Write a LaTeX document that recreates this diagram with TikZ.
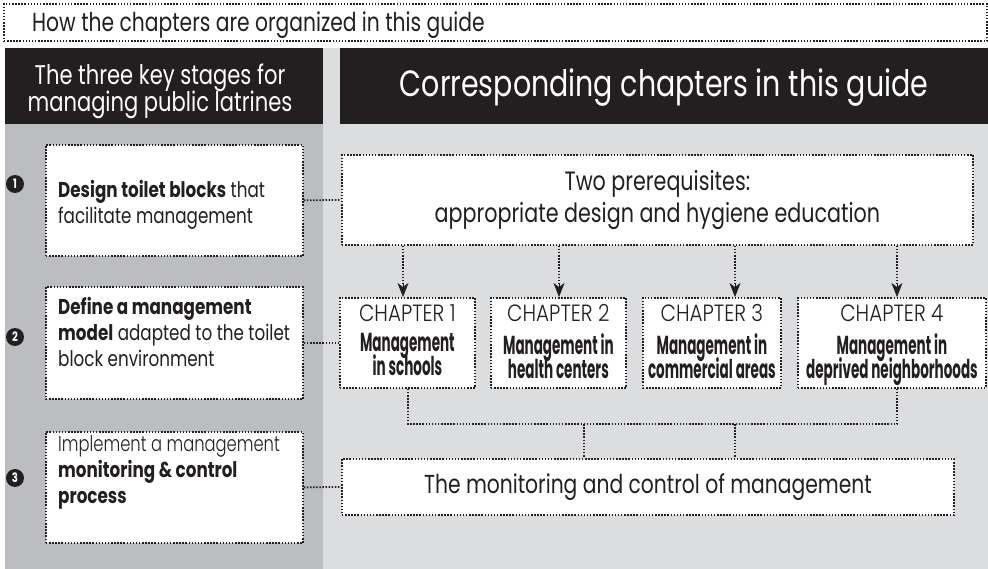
\documentclass[tikz,border=0pt]{standalone}
\usepackage{fontspec}
\setmainfont{Poppins}[FakeStretch=0.78]
\newfontfamily\flight{Poppins Light}[FakeStretch=0.85]
\newfontfamily\flightn{Poppins Light}[FakeStretch=0.76]
\newfontfamily\fcond{Poppins Bold}[FakeStretch=0.52]
\usetikzlibrary{arrows.meta}
\definecolor{ink}{HTML}{231F20}
\definecolor{leftgray}{HTML}{BCBDC0}
\definecolor{rightgray}{HTML}{DCDDDF}
\newcommand{\tightlines}{\lineskiplimit -40pt\lineskip 0pt\relax}
\begin{document}
\begin{tikzpicture}[x=1pt,y=-1pt,
  dotline/.style={draw=ink, line width=1.8pt, dash pattern=on 1.5pt off 1.6pt, line cap=butt},
  wbox/.style={dotline, fill=white, rectangle, inner sep=0pt},
  hdr/.style={fill=ink, rectangle, inner sep=0pt, anchor=north west},
  num/.style={circle, fill=ink, text=white, minimum size=18pt, inner sep=0pt, font={\fontsize{13}{13}\selectfont\bfseries}},
  lefttext/.style={text=ink, anchor=west, align=left, inner sep=0pt, font={\fontsize{21.5}{26}\selectfont}},
  chaplabel/.style={text=ink, anchor=base, inner sep=0pt, font={\fontsize{23.5}{23.5}\flight}},
  chaptitle/.style={text=ink, anchor=north, align=center, inner sep=0pt, font={\fontsize{26}{24.5}\fcond\tightlines}},
  tip/.style={draw=ink, fill=ink, line width=0.6pt, -{Stealth[length=14pt,width=11pt,inset=4pt]}}
]
\useasboundingbox (0,0) rectangle (988,569);
% backgrounds
\fill[white] (0,0) rectangle (988,569);
\fill[leftgray] (5,124) rectangle (323,569);
\fill[rightgray] (323,48) rectangle (988,569);

% title
\node[dotline, rectangle, anchor=north west, minimum width=983pt, minimum height=37pt, inner sep=0pt] (title) at (3,3) {};
\node[text=ink, anchor=base west, inner sep=0pt, font={\fontsize{26}{26}\selectfont}] (titletext) at (32,32) {How the chapters are organized in this guide};

% headers
\node[hdr, minimum width=318pt, minimum height=76pt] (hdrL) at (5,48) {};
\node[hdr, minimum width=648pt, minimum height=76pt] (hdrR) at (340,48) {};
\node[text=white, align=center, inner sep=0pt, font={\fontsize{27}{27}\selectfont\tightlines}] (hdrLtext) at (160,91) {The three key stages for\\managing public latrines};
\node[text=white, inner sep=0pt, font={\fontsize{36.5}{36.5}\selectfont}] (hdrRtext) at (664,88) {Corresponding chapters in this guide};

% left boxes
\node[wbox, anchor=north west, minimum width=257pt, minimum height=111pt] (b1) at (45,144) {};
\node[wbox, anchor=north west, minimum width=257pt, minimum height=112pt] (b2) at (45,286) {};
\node[wbox, anchor=north west, minimum width=257pt, minimum height=111pt] (b3) at (45,431) {};
\node[lefttext] (t1) at (58,205) {\textbf{Design toilet blocks} that\\facilitate management};
\node[lefttext] (t2) at (58,332) {\textbf{Define a management}\\\textbf{model} adapted to the toilet\\block environment};
\node[lefttext] (t3) at (58,472) {{\flightn Implement a management}\\\textbf{monitoring \& control}\\\textbf{process}};
\node[num] (n1) at (15,184) {1};
\node[num] (n2) at (15,337) {2};
\node[num] (n3) at (15,478) {3};

% right boxes
\node[wbox, anchor=north west, minimum width=631pt, minimum height=90pt, align=center, text=ink, font={\fontsize{26.5}{32}\selectfont}] (pre) at (341,154) {Two prerequisites:\\appropriate design and hygiene education};
\node[wbox, anchor=north west, minimum width=135pt, minimum height=90pt] (ch1) at (339,297) {};
\node[wbox, anchor=north west, minimum width=135pt, minimum height=90pt] (ch2) at (490,297) {};
\node[wbox, anchor=north west, minimum width=138pt, minimum height=90pt] (ch3) at (642,297) {};
\node[wbox, anchor=north west, minimum width=188pt, minimum height=90pt] (ch4) at (797,297) {};
\node[wbox, anchor=north west, minimum width=612pt, minimum height=56pt, text=ink, font={\fontsize{26}{26}\selectfont}] (mon) at (341,458) {The monitoring and control of management};

\foreach \c/\n in {ch1/1,ch2/2,ch3/3,ch4/4}{
  \node[chaplabel] (\c lab) at ([yshift=-25pt]\c.north) {CHAPTER \n};
}
\node[chaptitle] (ch1t) at ([yshift=-36pt]ch1.north) {Management\\in schools};
\node[chaptitle] (ch2t) at ([yshift=-36pt]ch2.north) {Management in\\health centers};
\node[chaptitle] (ch3t) at ([yshift=-36pt]ch3.north) {Management in\\commercial areas};
\node[chaptitle] (ch4t) at ([yshift=-36pt]ch4.north) {Management in\\deprived neighborhoods};

% connectors
\draw[dotline] (b1.east) -- (pre.west);
\draw[dotline] (b2.east) -- (ch1.west);
\draw[dotline] (b3.east) -- (mon.west);

\foreach \c/\x in {ch1/403,ch2/559,ch3/735,ch4/897}{
  \coordinate (a\c) at (\x,0);
  \draw[dotline] (pre.south -| a\c) -- ([yshift=12pt]\c.north -| a\c);
  \draw[tip] ([yshift=14pt]\c.north -| a\c) -- (\c.north -| a\c);
}

\coordinate (m1) at (408,424);
\coordinate (m4) at (897,424);
\coordinate (d1) at (584,424);
\coordinate (d2) at (735,424);
\draw[dotline] (ch1.south -| m1) -- (m1) -- (m4) -- (ch4.south -| m4);
\draw[dotline] (d1) -- (mon.north -| d1);
\draw[dotline] (d2) -- (mon.north -| d2);
\end{tikzpicture}
\end{document}
